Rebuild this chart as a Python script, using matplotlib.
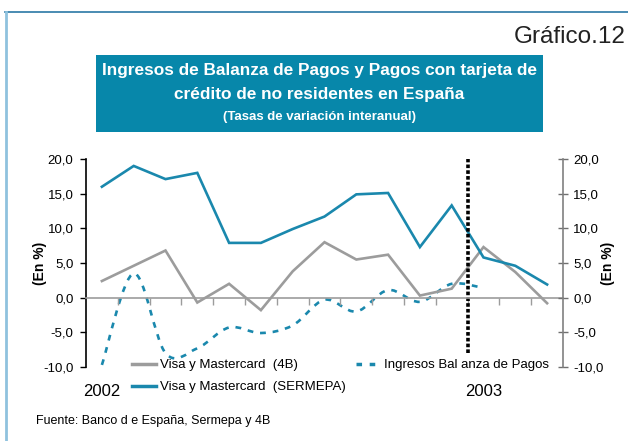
import matplotlib
matplotlib.use("Agg")
import matplotlib.pyplot as plt
import numpy as np
from matplotlib.path import Path
from matplotlib.patches import PathPatch, Rectangle
from matplotlib.lines import Line2D
import matplotlib.transforms as mtransforms

# monthly data, Jan 2002 .. Mar 2003
months = ["Ene-02", "Feb-02", "Mar-02", "Abr-02", "May-02", "Jun-02", "Jul-02", "Ago-02",
          "Sep-02", "Oct-02", "Nov-02", "Dic-02", "Ene-03", "Feb-03", "Mar-03"]
visa_4b = [2.4, 4.6, 6.8, -0.7, 2.0, -1.8, 3.8, 8.0, 5.5, 6.2, 0.3, 1.3, 7.3, 3.7, -0.8]
visa_sermepa = [16.0, 19.0, 17.1, 18.0, 7.9, 7.9, 9.9, 11.7, 14.9, 15.1, 7.3, 13.3, 5.8, 4.6, 1.9]
ingresos_bp = [-9.7, 3.5, -8.0, -7.3, -4.3, -5.1, -4.0, -0.3, -2.0, 1.1, -0.6, 2.0, 1.4]
year_labels = ["2002", "2003"]
year_pos = [0, 12]

BLUE = "#1a88ad"
GRAY = "#9c9c9c"
BOX = "#0787aa"

plt.rcParams['font.family'] = ['Liberation Sans', 'DejaVu Sans']

W, H = 628, 441
fig = plt.figure(figsize=(W / 100, H / 100), dpi=100)

def fx(px):
    return px / W

def fy(py):
    return 1 - py / H

ax = fig.add_axes([fx(86), fy(367), fx(563) - fx(86), fy(159) - fy(367)])
x = np.arange(len(months))

ax.plot(x, visa_4b, color=GRAY, lw=1.9, solid_joinstyle='miter')
ax.plot(x, visa_sermepa, color=BLUE, lw=1.9, solid_joinstyle='miter')

# smoothed dashed line (catmull-rom -> bezier)
pts = np.column_stack([np.arange(len(ingresos_bp)), ingresos_bp])
verts = [tuple(pts[0])]
codes = [Path.MOVETO]
for i in range(len(pts) - 1):
    p0 = pts[i - 1] if i > 0 else pts[i]
    p1, p2 = pts[i], pts[i + 1]
    p3 = pts[i + 2] if i + 2 < len(pts) else pts[i + 1]
    c1 = p1 + (p2 - p0) / 6
    c2 = p2 - (p3 - p1) / 6
    verts += [tuple(c1), tuple(c2), tuple(p2)]
    codes += [Path.CURVE4] * 3
ax.add_patch(PathPatch(Path(verts, codes), fill=False, edgecolor=BLUE, lw=1.9,
                       linestyle=(0, (2.2, 2.6))))

# vertical separator between 2002 and 2003
ax.plot([11.5, 11.5], [-8, 20], color="black", lw=2.6, linestyle=(0, (1, 0.6)))

ticks = np.arange(-10, 21, 5)
tick_labels = [f"{v:.1f}".replace(".", ",") for v in ticks]

ax.set_xlim(-0.5, len(months) - 0.5)
ax.set_ylim(-10, 20)
ax.set_yticks(ticks)
ax.set_yticklabels(tick_labels, fontsize=9.5)
ax.set_xticks(np.arange(0.5, len(months) - 0.5, 1))
ax.set_xticklabels([])
ax.tick_params(axis='x', direction='out', length=5, color=GRAY, width=1)
ax.tick_params(axis='y', direction='out', length=4, width=1, pad=5)
ax.spines['top'].set_visible(False)
ax.spines['right'].set_visible(False)
ax.spines['bottom'].set_position(('data', 0))
ax.spines['bottom'].set_color(GRAY)
ax.spines['bottom'].set_linewidth(1.2)
ax.spines['left'].set_linewidth(1.2)
ax.set_ylabel("(En %)", fontsize=10, fontweight='bold')
ax.yaxis.set_label_coords(-0.082, 0.5)
ax.patch.set_alpha(0)

ax2 = ax.twinx()
ax2.set_position(ax.get_position())
ax2.set_ylim(-10, 20)
ax2.set_yticks(ticks)
ax2.set_yticklabels(tick_labels, fontsize=9.5)
ax2.tick_params(axis='y', direction='inout', length=7, width=1, color="#707070", pad=4)
for s in ['top', 'left', 'bottom']:
    ax2.spines[s].set_visible(False)
ax2.spines['right'].set_color("#808080")
ax2.spines['right'].set_linewidth(1.2)
ax2.set_ylabel("(En %)", fontsize=10, fontweight='bold', rotation=90)
ax2.yaxis.set_label_coords(1.08, 0.5)

# year labels
trans = mtransforms.blended_transform_factory(ax.transData, fig.transFigure)
for lab, pos in zip(year_labels, year_pos):
    ax.text(pos, fy(391), lab, transform=trans, ha='center', va='center', fontsize=12)

# legend
handles = [Line2D([], [], color=GRAY, lw=2.5),
           Line2D([], [], color=BLUE, lw=2.5),
           Line2D([], [], color=BLUE, lw=2.5, linestyle=(0, (1.6, 2.2)))]
labels = ["Visa y Mastercard  (4B)", "Visa y Mastercard  (SERMEPA)", "Ingresos Bal anza de Pagos"]
fig.legend(handles, labels, loc='upper left', bbox_to_anchor=(fx(132), fy(359)), ncol=2,
           frameon=False, fontsize=9.5, borderpad=0, borderaxespad=0, handlelength=1.8,
           handletextpad=0.3, labelspacing=0.75, columnspacing=0.8)

# title box
fig.patches.append(Rectangle((fx(96), fy(132)), fx(543) - fx(96), fy(55) - fy(132),
                             transform=fig.transFigure, facecolor=BOX, edgecolor='none', zorder=0))
fig.text(fx(319.5), fy(71), "Ingresos de Balanza de Pagos y Pagos con tarjeta de", ha='center', va='center',
         color='white', fontsize=12.4, fontweight='bold')
fig.text(fx(319.5), fy(94), "crédito de no residentes en España", ha='center', va='center',
         color='white', fontsize=12.4, fontweight='bold')
fig.text(fx(319.5), fy(117), "(Tasas de variación interanual)", ha='center', va='center',
         color='white', fontsize=9.5, fontweight='bold')

fig.text(fx(626), fy(37), "Gráfico.12", ha='right', va='center', fontsize=17.5, color="#222222")
fig.text(fx(36), fy(421), "Fuente: Banco d e España, Sermepa y 4B", ha='left', va='center', fontsize=9)

# frame lines
fig.add_artist(Line2D([fx(5), 1], [fy(12), fy(12)], color="#2a78a6", lw=1.2))
fig.add_artist(Line2D([fx(5.5), fx(5.5)], [fy(12), 0], color="#8fc2de", lw=2))

fig.savefig("out.png", dpi=100)
